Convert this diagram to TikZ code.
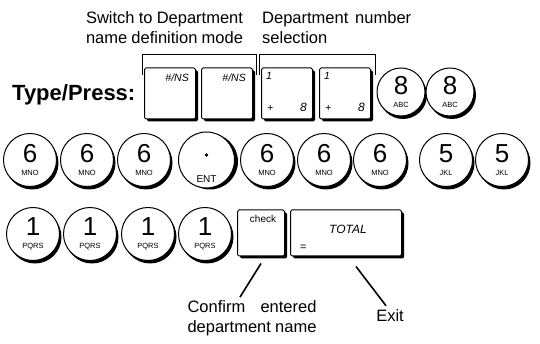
\documentclass[tikz,border=0pt]{standalone}
\usepackage{fontspec}
\setmainfont{Liberation Sans}
\usetikzlibrary{shadows}
\newcommand{\digkey}[2]{{\fontsize{26}{13}\selectfont #1}\\{\fontsize{7.5}{13}\selectfont #2}}

\begin{document}
\begin{tikzpicture}[x=1pt,y=1pt,
  sqkey/.style={draw,line width=1pt,rounded corners=1.5pt,fill=white,inner sep=0pt,
    minimum width=51pt,minimum height=51pt,
    drop shadow={shadow xshift=2.5pt,shadow yshift=-2.5pt,fill=black,opacity=1}},
  rdkey/.style={circle,draw,line width=1pt,fill=white,inner sep=0pt,minimum size=53pt,
    align=center,font=\fontsize{7}{13}\selectfont,
    drop shadow={shadow xshift=2pt,shadow yshift=-3pt,fill=black,opacity=1}},
  entkey/.style={circle,draw,line width=1pt,fill=white,inner sep=0pt,minimum size=56pt,
    drop shadow={shadow xshift=3.5pt,shadow yshift=-1.5pt,fill=black,opacity=1}},
  keytag/.style={inner sep=0pt,font=\fontsize{10.5}{10.5}\selectfont\itshape},
  note/.style={inner sep=0pt,font=\fontsize{16.5}{20}\selectfont},
  brack/.style={line width=1.8pt},
  pointer/.style={line width=1.6pt}]
\useasboundingbox (0,0) rectangle (540,344);

% labels on top
\node[note,align=left] (swlab) at (164.5,316.5)
  {\makebox[157pt][s]{Switch to Department}\\\makebox[157pt][s]{name definition mode}};
\node[note,align=left,anchor=west] (dplab) at (262,316.5)
  {\makebox[149pt][s]{Department number}\\selection};

% row 1
\node[anchor=west,inner sep=0pt,font=\fontsize{22}{22}\selectfont\bfseries] (type) at (12,249) {Type/Press:};
\foreach \k/\x in {nsA/170,nsB/227}{
  \node[sqkey] (\k) at (\x,250.5) {};
  \node[keytag,anchor=north east] (\k-tag) at ([xshift=-7pt,yshift=-6pt]\k.north east) {\#/NS};}
\foreach \k/\x in {dpA/287,dpB/345}{
  \node[sqkey] (\k) at (\x,250.5) {};
  \node[keytag,anchor=north west] (\k-one) at ([xshift=5pt,yshift=-5pt]\k.north west) {1};
  \node[keytag,anchor=south west] (\k-plus) at ([xshift=6pt,yshift=8pt]\k.south west) {+};
  \node[keytag,font=\fontsize{12}{12}\selectfont\itshape,anchor=south east] (\k-eight) at ([xshift=-6pt,yshift=8pt]\k.south east) {8};}
\foreach \n/\x in {1/401,2/450}{\node[rdkey,minimum size=48pt] (eight\n) at (\x,252) {\digkey{8}{ABC}};}

\draw[brack] ([xshift=-1.5pt,yshift=-8pt]nsA.north west) -- ++(0,21) -| ([xshift=3.5pt,yshift=-8pt]nsB.north east);
\draw[brack] ([xshift=-1.5pt,yshift=-8pt]dpA.north west) -- ++(0,21) -| ([xshift=4.5pt,yshift=-8pt]dpB.north east);

% row 2
\foreach \n/\x in {1/30,2/87,3/144}{\node[rdkey] (sixA\n) at (\x,184) {\digkey{6}{MNO}};}
\node[entkey] (ent) at (206.5,184) {};
\fill ([yshift=5pt]ent.center) circle (1.8pt);
\node[inner sep=0pt,font=\fontsize{10}{10}\selectfont] (ent-tag) at ([yshift=-19pt]ent.center) {ENT};
\foreach \n/\x in {1/267,2/324,3/380}{\node[rdkey] (sixB\n) at (\x,184) {\digkey{6}{MNO}};}
\foreach \n/\x in {1/446,2/502}{\node[rdkey] (five\n) at (\x,184) {\digkey{5}{JKL}};}

% row 3
\foreach \n/\x in {1/33,2/90,3/148,4/205}{\node[rdkey] (one\n) at (\x,110) {\digkey{1}{PQRS}};}
\node[sqkey,minimum width=47pt,minimum height=46pt] (chk) at (261,111) {};
\node[keytag,font=\fontsize{10}{10}\selectfont,anchor=north] (chk-tag) at ([xshift=2pt,yshift=-6pt]chk.north) {check};
\node[sqkey,minimum width=111pt,minimum height=46pt] (tot) at (346,111) {};
\node[keytag,font=\fontsize{12}{12}\selectfont\itshape] (tot-tag) at ([xshift=2pt,yshift=4pt]tot.center) {TOTAL};
\node[keytag,font=\fontsize{11}{11}\selectfont,anchor=south west] (tot-eq) at ([xshift=10pt,yshift=6pt]tot.south west) {=};

% bottom labels
\node[note,align=left] (confirm) at (252,26)
  {\makebox[129pt][s]{Confirm entered}\\\makebox[129pt][s]{department name}};
\node[note] (exit) at (390,28) {Exit};
\draw[pointer] ([yshift=-7pt]chk.south) -- ([xshift=-12pt,yshift=3pt]confirm.north);
\draw[pointer] ([xshift=10pt,yshift=-10pt]tot.south) -- ([xshift=-4pt,yshift=4pt]exit.north);
\end{tikzpicture}
\end{document}
